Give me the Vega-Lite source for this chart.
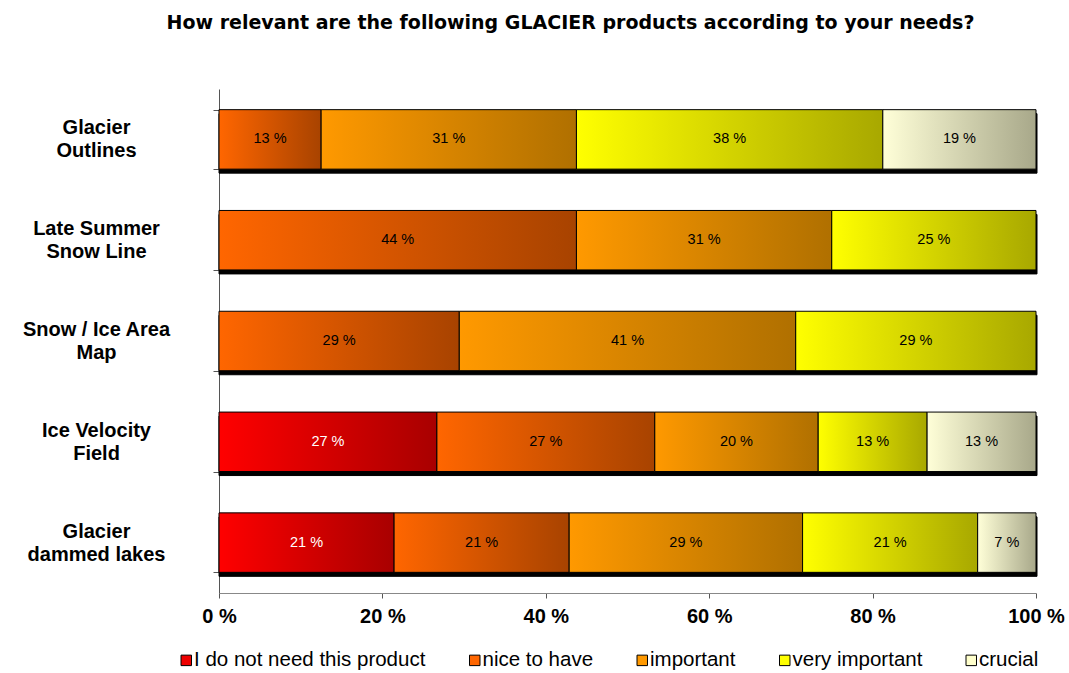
{
  "$schema": "https://vega.github.io/schema/vega-lite/v6.json",
  "width": 817,
  "height": 504,
  "autosize": {"type": "none"},
  "padding": {"left": 219, "top": 89, "right": 33, "bottom": 80},
  "background": "white",
  "config": {"view": {"stroke": null}},
  "title": {
    "text": "How relevant are the following GLACIER products according to your needs?",
    "font": "DejaVu Sans",
    "fontSize": 19,
    "fontWeight": "bold",
    "color": "black",
    "anchor": "middle",
    "dx": -57,
    "offset": 46
  },
  "data": {
    "values": [
      {"product": "Glacier Outlines", "category": "nice to have", "value": 12.5},
      {"product": "Glacier Outlines", "category": "important", "value": 31.25},
      {"product": "Glacier Outlines", "category": "very important", "value": 37.5},
      {"product": "Glacier Outlines", "category": "crucial", "value": 18.75},
      {"product": "Late Summer Snow Line", "category": "nice to have", "value": 43.75},
      {"product": "Late Summer Snow Line", "category": "important", "value": 31.25},
      {"product": "Late Summer Snow Line", "category": "very important", "value": 25},
      {"product": "Snow / Ice Area Map", "category": "nice to have", "value": 29.41},
      {"product": "Snow / Ice Area Map", "category": "important", "value": 41.18},
      {"product": "Snow / Ice Area Map", "category": "very important", "value": 29.41},
      {"product": "Ice Velocity Field", "category": "I do not need this product", "value": 26.67},
      {"product": "Ice Velocity Field", "category": "nice to have", "value": 26.67},
      {"product": "Ice Velocity Field", "category": "important", "value": 20},
      {"product": "Ice Velocity Field", "category": "very important", "value": 13.33},
      {"product": "Ice Velocity Field", "category": "crucial", "value": 13.33},
      {"product": "Glacier dammed lakes", "category": "I do not need this product", "value": 21.43},
      {"product": "Glacier dammed lakes", "category": "nice to have", "value": 21.43},
      {"product": "Glacier dammed lakes", "category": "important", "value": 28.57},
      {"product": "Glacier dammed lakes", "category": "very important", "value": 21.43},
      {"product": "Glacier dammed lakes", "category": "crucial", "value": 7.14}
    ]
  },
  "transform": [
    {"calculate": "indexof(['I do not need this product','nice to have','important','very important','crucial'], datum.category)", "as": "k"},
    {"stack": "value", "groupby": ["product"], "sort": [{"field": "k", "order": "ascending"}], "as": ["x0", "x1"]},
    {"calculate": "(datum.x0 + datum.x1) / 2", "as": "xm"},
    {"calculate": "format(round(datum.value), 'd') + ' %'", "as": "label"}
  ],
  "encoding": {
    "y": {
      "field": "product",
      "type": "nominal",
      "sort": ["Glacier Outlines", "Late Summer Snow Line", "Snow / Ice Area Map", "Ice Velocity Field", "Glacier dammed lakes"],
      "scale": {"paddingInner": 0.41, "paddingOuter": 0.205},
      "axis": {
        "title": null,
        "tickBand": "extent",
        "domainColor": "#555555",
        "tickColor": "#555555",
        "tickSize": 6,
        "labelFont": "Liberation Sans",
        "labelFontSize": 20,
        "labelFontWeight": "bold",
        "labelColor": "black",
        "labelAlign": "center",
        "labelPadding": 117,
        "labelLineHeight": 23,
        "labelOffset": -11.5,
        "labelLimit": 0,
        "labelExpr": "{'Glacier Outlines':['Glacier','Outlines'],'Late Summer Snow Line':['Late Summer','Snow Line'],'Snow / Ice Area Map':['Snow / Ice Area','Map'],'Ice Velocity Field':['Ice Velocity','Field'],'Glacier dammed lakes':['Glacier','dammed lakes']}[datum.value]"
      }
    }
  },
  "layer": [
    {
      "transform": [{"aggregate": [{"op": "max", "field": "x1", "as": "xend"}], "groupby": ["product"]}],
      "mark": {"type": "bar", "fill": "black", "stroke": "black", "xOffset": 1, "yOffset": 4},
      "encoding": {
        "x": {"field": "xend", "type": "quantitative", "stack": null, "scale": {"domain": [0, 100]}}
      }
    },
    {
      "mark": {"type": "bar", "stroke": "black", "strokeWidth": 1},
      "encoding": {
        "x": {
          "field": "x0",
          "type": "quantitative",
          "scale": {"domain": [0, 100]},
          "axis": {
            "title": null,
            "values": [0, 20, 40, 60, 80, 100],
            "grid": false,
            "domainColor": "#888888",
            "tickColor": "#555555",
            "tickSize": 5,
            "labelFont": "Liberation Sans",
            "labelFontSize": 20,
            "labelFontWeight": "bold",
            "labelColor": "black",
            "labelPadding": 8,
            "labelExpr": "datum.value + ' %'",
            "labelFlush": false
          }
        },
        "x2": {"field": "x1"},
        "fill": {
          "condition": [
            {"test": "datum.category == 'I do not need this product'", "value": {"gradient": "linear", "x1": 0, "y1": 0, "x2": 1, "y2": 0, "stops": [{"offset": 0, "color": "#ff0000"}, {"offset": 1, "color": "#a80000"}]}},
            {"test": "datum.category == 'nice to have'", "value": {"gradient": "linear", "x1": 0, "y1": 0, "x2": 1, "y2": 0, "stops": [{"offset": 0, "color": "#ff6600"}, {"offset": 1, "color": "#a84300"}]}},
            {"test": "datum.category == 'important'", "value": {"gradient": "linear", "x1": 0, "y1": 0, "x2": 1, "y2": 0, "stops": [{"offset": 0, "color": "#ff9900"}, {"offset": 1, "color": "#b07000"}]}},
            {"test": "datum.category == 'very important'", "value": {"gradient": "linear", "x1": 0, "y1": 0, "x2": 1, "y2": 0, "stops": [{"offset": 0, "color": "#ffff00"}, {"offset": 1, "color": "#a8a800"}]}}
          ],
          "value": {"gradient": "linear", "x1": 0, "y1": 0, "x2": 1, "y2": 0, "stops": [{"offset": 0, "color": "#ffffd8"}, {"offset": 1, "color": "#a8a88a"}]}
        }
      }
    },
    {
      "transform": [{"filter": "false"}],
      "mark": {"type": "bar"},
      "encoding": {
        "x": {"field": "x0", "type": "quantitative", "scale": {"domain": [0, 100]}},
        "x2": {"field": "x1"},
        "color": {
          "field": "category",
          "type": "nominal",
          "scale": {
            "domain": ["I do not need this product", "nice to have", "important", "very important", "crucial"],
            "range": ["#ee0000", "#ff6600", "#ff9900", "#ffff00", "#ffffcc"]
          },
          "legend": {
            "title": null,
            "orient": "none",
            "direction": "horizontal",
            "legendX": -43,
            "legendY": 561,
            "padding": 0,
            "symbolType": "square",
            "symbolSize": 110,
            "symbolStrokeColor": "black",
            "symbolStrokeWidth": 1,
            "symbolOpacity": 1,
            "labelFont": "Liberation Sans",
            "labelFontSize": 20.5,
            "labelColor": "black",
            "labelOffset": -2.5,
            "labelLimit": 0,
            "columnPadding": 38.5
          }
        }
      }
    },
    {
      "mark": {"type": "text", "font": "Liberation Sans", "fontSize": 14.5, "align": "center", "baseline": "middle"},
      "encoding": {
        "x": {"field": "xm", "type": "quantitative", "scale": {"domain": [0, 100]}},
        "text": {"field": "label"},
        "color": {
          "condition": {"test": "datum.category == 'I do not need this product'", "value": "white"},
          "value": "black"
        }
      }
    }
  ]
}
